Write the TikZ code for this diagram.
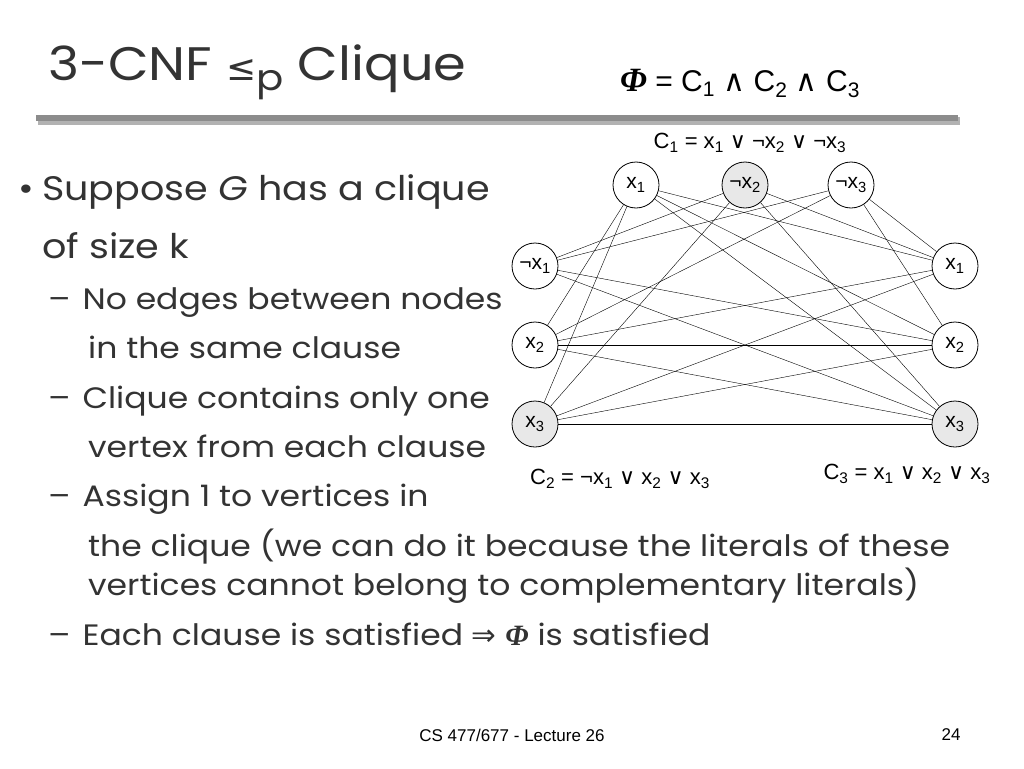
\documentclass[tikz,border=0pt]{standalone}
\usepackage{fontspec}
\setmainfont[FakeStretch=1.12]{Poppins}
\newfontfamily\arial{Liberation Sans}
\newfontfamily\djv{DejaVu Sans}
\newfontfamily\tms{Liberation Serif}
\newcommand{\myphi}{{\tms\bfseries\itshape Φ}}
\newcommand{\myand}{{\djv ∧}}
\newcommand{\myor}{{\djv ∨}}
\begin{document}
\begin{tikzpicture}[x=1pt,y=-1pt,
 v/.style={circle,draw,thick,minimum size=46pt,inner sep=0pt,font=\arial\fontsize{21}{22}\selectfont,fill=white},
 vs/.style={v,fill=gray!18},
 e/.style={thin},
 lab/.style={font=\arial\fontsize{22}{24}\selectfont,inner sep=0pt},
 body/.style={anchor=base west,inner sep=0pt,font=\fontsize{34}{38}\selectfont,text=black!80},
 sub/.style={anchor=base west,inner sep=0pt,font=\fontsize{29.5}{32}\selectfont,text=black!80}]
\useasboundingbox (0,0) rectangle (1024,768);
\node[anchor=base west,inner sep=0pt,font=\fontsize{47}{50}\selectfont,text=black!80] (title) at (48,80) {3-CNF {\djv\fontsize{36}{40}\selectfont ≤}\raisebox{-10pt}{\fontsize{36}{40}\selectfont p} Clique};
\node[anchor=base west,inner sep=0pt,font=\arial\fontsize{30}{32}\selectfont] (phi) at (620,91) {{\fontsize{34}{36}\selectfont\myphi} = C\textsubscript{1} \myand{} C\textsubscript{2} \myand{} C\textsubscript{3}};
\fill[gray!60] (38,117) rectangle (960,125);
\fill[gray!90] (36,115) rectangle (958,121);
% graph
\node[v]  (a1) at (636,185) {x\textsubscript{1}};
\node[vs] (a2) at (745,185) {¬x\textsubscript{2}};
\node[v]  (a3) at (851,185) {¬x\textsubscript{3}};
\node[v]  (b1) at (535,266) {¬x\textsubscript{1}};
\node[v]  (b2) at (535,345) {x\textsubscript{2}};
\node[vs] (b3) at (535,424) {x\textsubscript{3}};
\node[v]  (c1) at (955,266) {x\textsubscript{1}};
\node[v]  (c2) at (955,345) {x\textsubscript{2}};
\node[vs] (c3) at (955,424) {x\textsubscript{3}};
\foreach \p/\q in {a1/b2,a1/b3,a2/b1,a2/b3,a3/b1,a3/b2,
 a1/c1,a1/c2,a1/c3,a2/c1,a2/c3,a3/c1,a3/c2,
 b1/c2,b1/c3,b2/c1,b2/c2,b2/c3,b3/c1,b3/c2,b3/c3}
 \draw[e] (\p) -- (\q);
\node[lab] (l1) at (750,143) {C\textsubscript{1} = x\textsubscript{1} \myor{} ¬x\textsubscript{2} \myor{} ¬x\textsubscript{3}};
\node[lab] (l2) at (620,479) {C\textsubscript{2} = ¬x\textsubscript{1} \myor{} x\textsubscript{2} \myor{} x\textsubscript{3}};
\node[lab] (l3) at (907,474) {C\textsubscript{3} = x\textsubscript{1} \myor{} x\textsubscript{2} \myor{} x\textsubscript{3}};
% text
\node[body] (t0) at (18,200) {•};
\node[body] (t1) at (42,200) {Suppose \textit{G} has a clique};
\node[body] (t2) at (42,258) {of size k};
\node[sub] (t3) at (48,309) {–\hspace{12pt}No edges between nodes};
\node[sub] (t4) at (88,358) {in the same clause};
\node[sub] (t5) at (48,408) {–\hspace{12pt}Clique contains only one};
\node[sub] (t6) at (88,457) {vertex from each clause};
\node[sub] (t7) at (48,506) {–\hspace{12pt}Assign 1 to vertices in};
\node[sub] (t8) at (88,556) {the clique (we can do it because the literals of these};
\node[sub] (t9) at (88,595) {vertices cannot belong to complementary literals)};
\node[sub] (t10) at (48,645) {–\hspace{12pt}Each clause is satisfied {\djv ⇒} \myphi{} is satisfied};
\node[font=\arial\fontsize{17}{20}\selectfont] (f1) at (512,735) {CS 477/677 - Lecture 26};
\node[font=\arial\fontsize{17}{20}\selectfont] (f2) at (951,735) {24};
\end{tikzpicture}
\end{document}
